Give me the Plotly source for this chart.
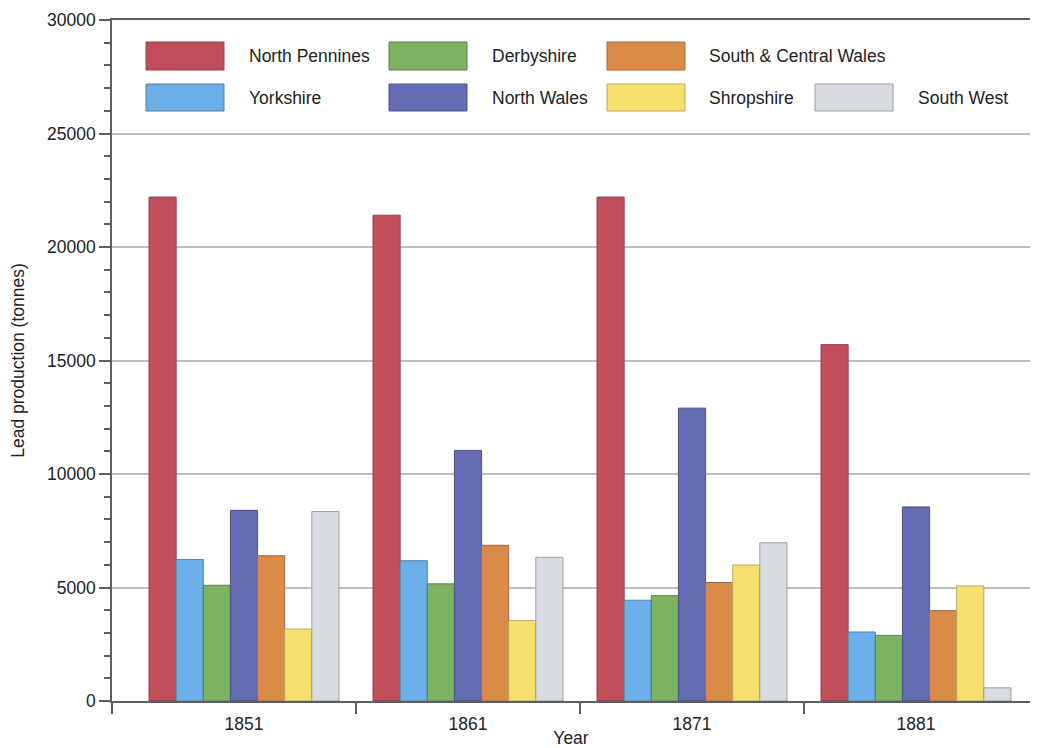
import plotly.graph_objects as go

# Lead production by orefield, census years
years = ["1851", "1861", "1871", "1881"]
regions = ["North Pennines", "Yorkshire", "Derbyshire", "North Wales",
           "South & Central Wales", "Shropshire", "South West"]
north_pennines = [22200, 21400, 22200, 15700]
yorkshire = [6230, 6180, 4440, 3040]
derbyshire = [5100, 5160, 4640, 2890]
north_wales = [8400, 11040, 12900, 8550]
south_central_wales = [6400, 6860, 5220, 3980]
shropshire = [3170, 3540, 5990, 5070]
south_west = [8350, 6330, 6970, 580]

series = [north_pennines, yorkshire, derbyshire, north_wales,
          south_central_wales, shropshire, south_west]
fills = ["#C14D5B", "#6AAFE8", "#7BB363", "#646BB3", "#DB8A48", "#F5E06E", "#D8DBE0"]
edges = ["#8E4650", "#5A7F9E", "#5E7D52", "#4E5285", "#9A6A45", "#B8A965", "#9C9EA2"]

fig = go.Figure()
xpos = list(range(len(years)))
for name, vals, fc, ec in zip(regions, series, fills, edges):
    fig.add_trace(go.Bar(
        x=xpos, y=vals, name=name,
        marker=dict(color=fc, line=dict(color=ec, width=1)),
        showlegend=False,
    ))

# plot area in pixels
W, H = 1041, 748
L, R, T, B = 112, 1030, 20, 701
x_left = -0.5 - 20 / 224
x_right = 3.5 + 2 / 224

def px(x):
    return (x - L) / (R - L)

def py(y):
    return (B - y) / (B - T)

# legend grid: (column, row) slot of each region
legend_slots = [(0, 0), (0, 1), (1, 0), (1, 1), (2, 0), (2, 1), (3, 1)]
legend_cols = [(146, 247), (389, 490), (607, 707), (815, 916)]
legend_rows = [(42, 70), (84, 111)]
shapes = []
annotations = []
for name, fc, ec, (col, row) in zip(regions, fills, edges, legend_slots):
    sx, tx = legend_cols[col]
    y0, y1 = legend_rows[row]
    shapes.append(dict(type="rect", xref="paper", yref="paper",
                       x0=px(sx), x1=px(sx + 78), y0=py(y1), y1=py(y0),
                       fillcolor=fc, line=dict(color=ec, width=1)))
    annotations.append(dict(xref="paper", yref="paper", x=px(tx), y=py((y0 + y1) / 2),
                            text=name, showarrow=False, xanchor="left", yanchor="middle",
                            font=dict(size=17.5, color="#222222")))

axis_color = "#5E5E5E"
fig.update_layout(
    width=W, height=H,
    margin=dict(l=L, r=W - R, t=T, b=H - B),
    paper_bgcolor="white", plot_bgcolor="white",
    font=dict(family="Liberation Sans, Arial, sans-serif", size=17.5, color="#222222"),
    barmode="group", bargap=0.152, bargroupgap=0,
    shapes=shapes, annotations=annotations,
    xaxis=dict(
        range=[x_left, x_right], automargin=False,
        tickmode="array", tickvals=xpos, ticktext=years,
        ticks="outside", ticklen=6, tickcolor="rgba(0,0,0,0)",
        showline=True, linecolor=axis_color, linewidth=1.5, mirror=True,
        showgrid=False, zeroline=False,
        minor=dict(tickmode="array", tickvals=[x_left, 0.5, 1.5, 2.5],
                   ticks="outside", ticklen=11, tickcolor=axis_color, tickwidth=1.5),
        title=dict(text="Year", font=dict(size=17.5), standoff=10),
        tickfont=dict(size=17.5),
    ),
    yaxis=dict(
        range=[0, 30000], automargin=False,
        tickmode="linear", tick0=0, dtick=5000, tickformat="d",
        ticks="outside", ticklen=11, tickcolor=axis_color, tickwidth=1.5,
        showline=True, linecolor=axis_color, linewidth=1.5,
        showgrid=True, gridcolor="#BDBDBD", gridwidth=1.5,
        zeroline=False,
        minor=dict(tickmode="linear", tick0=0, dtick=1000, ticks="outside",
                   ticklen=6, tickcolor=axis_color, tickwidth=1.5, showgrid=False),
        title=dict(text="Lead production (tonnes)", font=dict(size=17.5), standoff=18),
        tickfont=dict(size=17.5),
    ),
)

fig.write_html("out.html")
